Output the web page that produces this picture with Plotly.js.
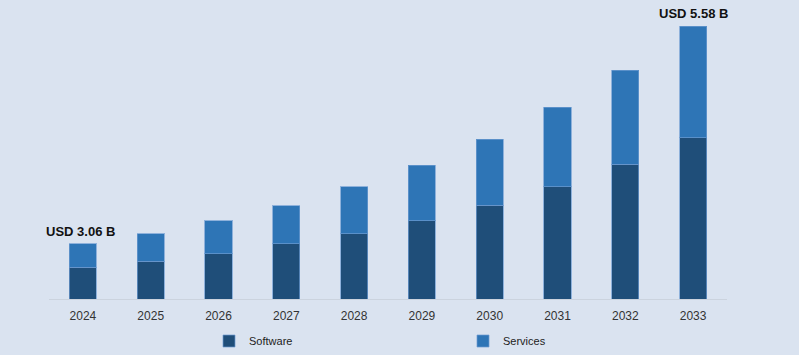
<!DOCTYPE html>
<html><head><meta charset="utf-8">
<script src="https://cdn.plot.ly/plotly-3.0.1.min.js"></script>
<style>html,body{margin:0;padding:0;background:#dae3f0;}#chart{width:799px;height:355px;}</style>
</head><body><div id="chart"></div>
<script>
const years = ['2024','2025','2026','2027','2028','2029','2030','2031','2032','2033'];
const software = [2.79, 2.86, 2.95, 3.06, 3.18, 3.33, 3.51, 3.72, 3.98, 4.29];
const services = [0.27, 0.32, 0.38, 0.44, 0.54, 0.64, 0.76, 0.92, 1.09, 1.29];
const labelFirst = 'USD 3.06 B';
const labelLast = 'USD 5.58 B';
const axisBase = 2.424;

const totals = software.map((v, i) => v + services[i]);
const edge = 'rgba(110,155,210,0.7)';
const data = [
  {type:'bar', name:'Software', x:years, y:software,
   marker:{color:'#1f4e79', line:{color:edge, width:1}}, hoverinfo:'skip'},
  {type:'bar', name:'Services', x:years, y:services,
   marker:{color:'#2e75b6', line:{color:edge, width:1}}, hoverinfo:'skip'}
];
const last = years.length - 1;
const layout = {
  width:799, height:355,
  paper_bgcolor:'#dae3f0', plot_bgcolor:'#dae3f0',
  margin:{l:49, r:72, t:20, b:56},
  barmode:'stack', bargap:0.6,
  showlegend:true,
  legend:{orientation:'h', traceorder:'normal', x:(209-49)/678, xanchor:'left',
          yref:'container', y:1-341/355, yanchor:'middle',
          entrywidth:209, entrywidthmode:'pixels', itemwidth:30, bgcolor:'rgba(0,0,0,0)',
          font:{family:'Liberation Sans, Arial, sans-serif', size:11, color:'#222'}},
  xaxis:{type:'category', range:[-0.5, last + 0.5], showgrid:false, zeroline:false, showline:true, linecolor:'#cbd3de', linewidth:1,
         ticks:'', tickfont:{family:'Liberation Sans, Arial, sans-serif', size:12, color:'#333'},
         ticklabelstandoff:6, fixedrange:true},
  yaxis:{range:[axisBase, axisBase + 279/86.5], visible:false, showgrid:false, zeroline:false, fixedrange:true},
  annotations:[
    {x:0, y:totals[0], text:'<b>'+labelFirst+'</b>', showarrow:false, yanchor:'bottom', yshift:3, xshift:-2,
     font:{family:'Liberation Sans, Arial, sans-serif', size:13, color:'#111'}},
    {x:last, y:totals[last], text:'<b>'+labelLast+'</b>', showarrow:false, yanchor:'bottom', yshift:3,
     font:{family:'Liberation Sans, Arial, sans-serif', size:13, color:'#111'}}
  ]
};
Plotly.newPlot('chart', data, layout, {displayModeBar:false, staticPlot:true});
</script></body></html>
